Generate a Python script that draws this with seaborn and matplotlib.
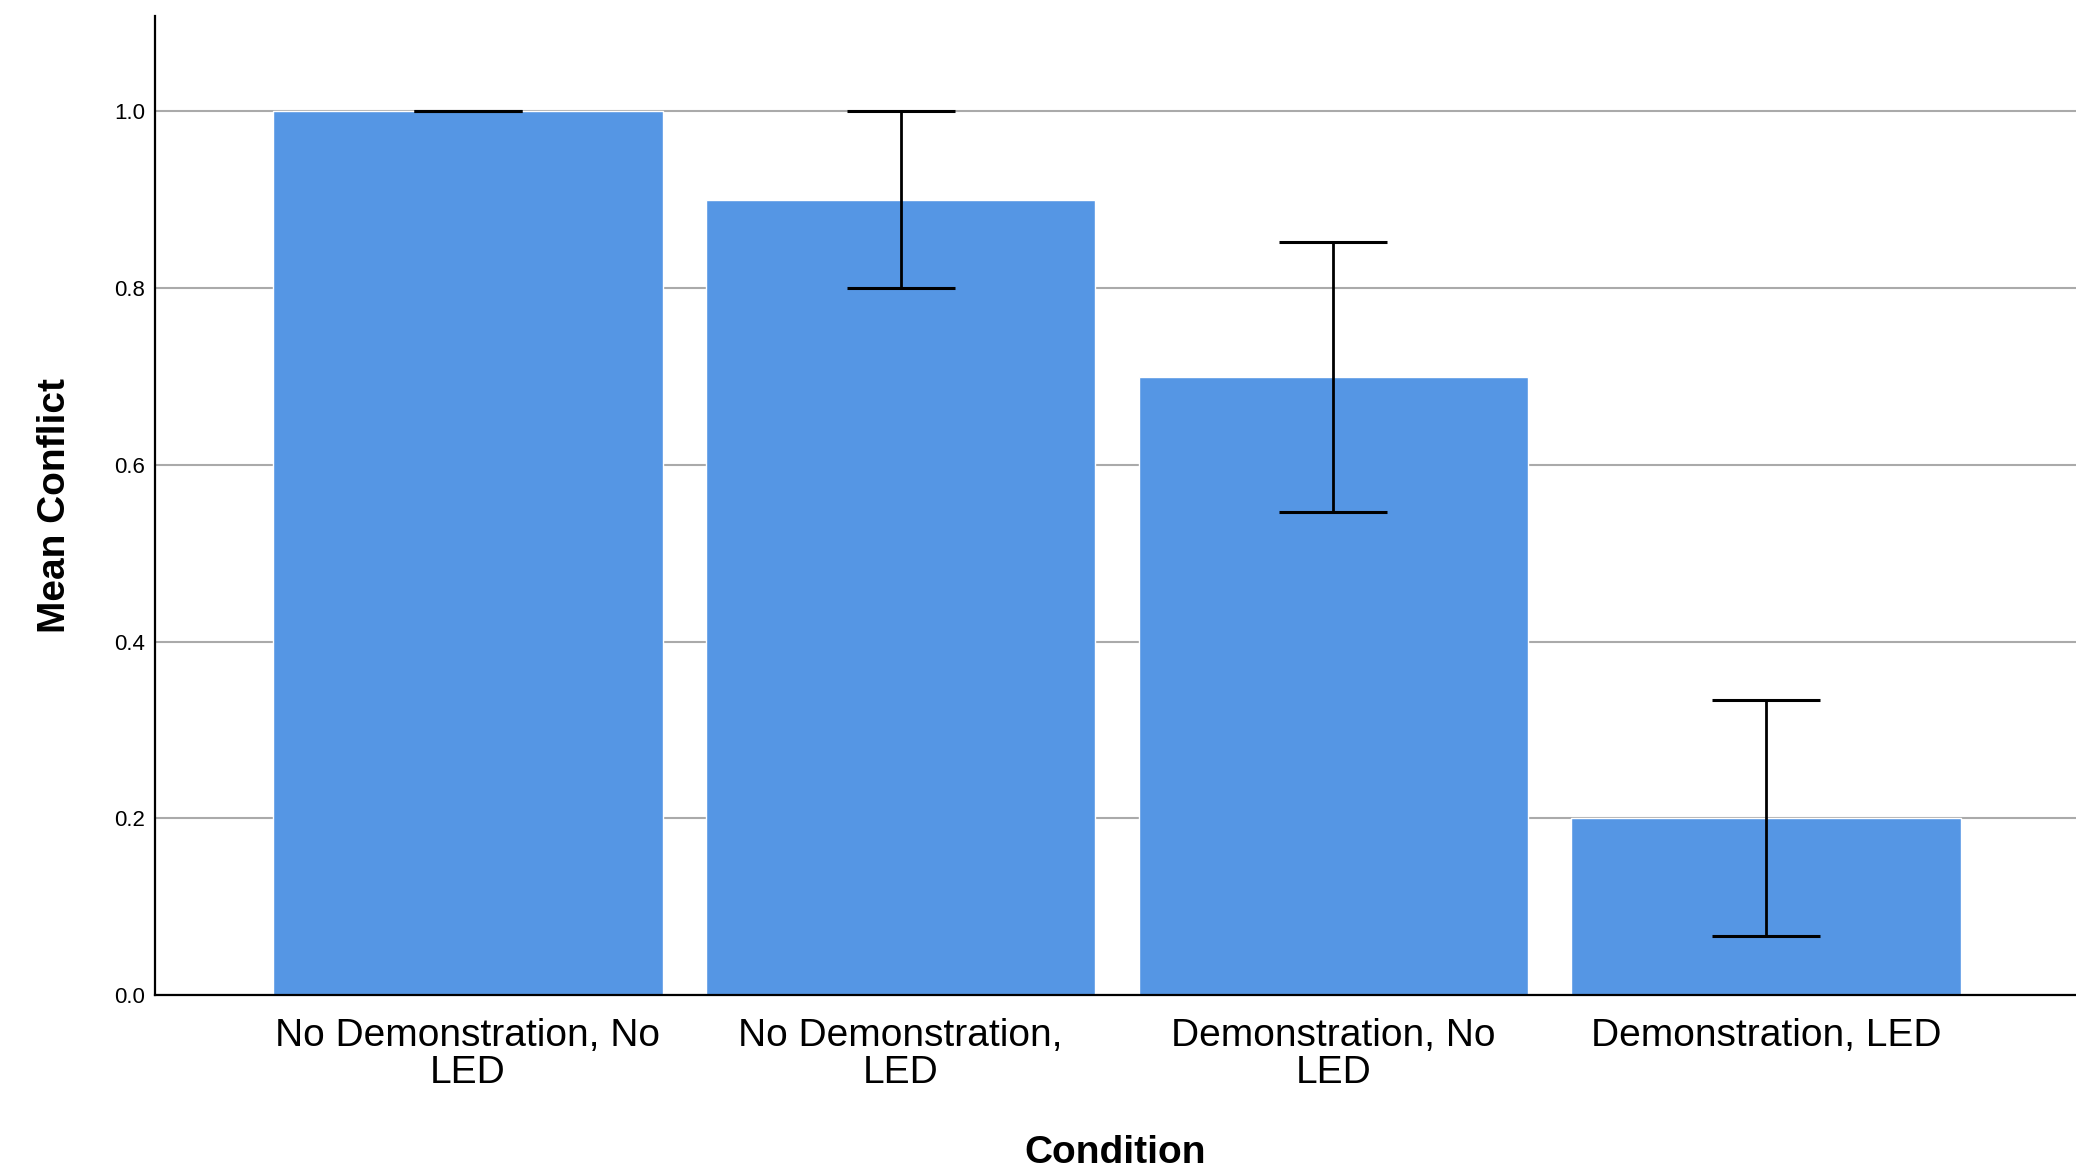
import numpy as np
import pandas as pd
import matplotlib
matplotlib.use('Agg')
import matplotlib.pyplot as plt
import seaborn as sns

# data
conditions = ['No Demonstration, No\nLED', 'No Demonstration,\nLED',
              'Demonstration, No\nLED', 'Demonstration, LED']
mean_conflict = [1.0, 0.9, 0.7, 0.2]
std_error = [0.0, 0.1, 0.1528, 0.1333]
y_ticks = [0.0, 0.2, 0.4, 0.6, 0.8, 1.0]

sns.set_style('white')
plt.rcParams['font.family'] = ['Liberation Sans', 'DejaVu Sans']
plt.rcParams['text.color'] = 'black'
plt.rcParams['axes.labelcolor'] = 'black'
plt.rcParams['xtick.color'] = 'black'
plt.rcParams['ytick.color'] = 'black'

df = pd.DataFrame({'Condition': conditions, 'Mean Conflict': mean_conflict})

fig = plt.figure(figsize=(20.76, 11.70), dpi=100)
ax = fig.add_axes([0.0747, 0.1496, 0.9253, 0.8367])

ax.set_axisbelow(True)
ax.yaxis.grid(True, color='#aaaaaa', linewidth=1.5)

sns.barplot(data=df, x='Condition', y='Mean Conflict', color='#5596e4',
            saturation=1, width=0.9, errorbar=None, ax=ax, zorder=2)

# +/- 1 SE error bars
ax.errorbar(x=np.arange(len(conditions)), y=mean_conflict, yerr=std_error,
            fmt='none', ecolor='black', elinewidth=2, capsize=39,
            capthick=2.2, zorder=3)

ax.set_xlim(-0.723, 3.716)
ax.set_ylim(0, 1.108)
ax.set_yticks(y_ticks)
ax.set_yticklabels(['%.1f' % t for t in y_ticks])

for s in ['top', 'right']:
    ax.spines[s].set_visible(False)
for s in ['left', 'bottom']:
    ax.spines[s].set_color('black')
    ax.spines[s].set_linewidth(1.6)

ax.tick_params(axis='y', length=0, labelsize=16, pad=7)
ax.tick_params(axis='x', length=0, labelsize=28, pad=16.5)
for lab in ax.get_xticklabels():
    lab.set_linespacing(1.03)

ax.set_xlabel('Condition', fontsize=28, fontweight='bold', labelpad=32)
ax.set_ylabel('Mean Conflict', fontsize=28, fontweight='bold', labelpad=30)

plt.savefig('out.png', dpi=100)
